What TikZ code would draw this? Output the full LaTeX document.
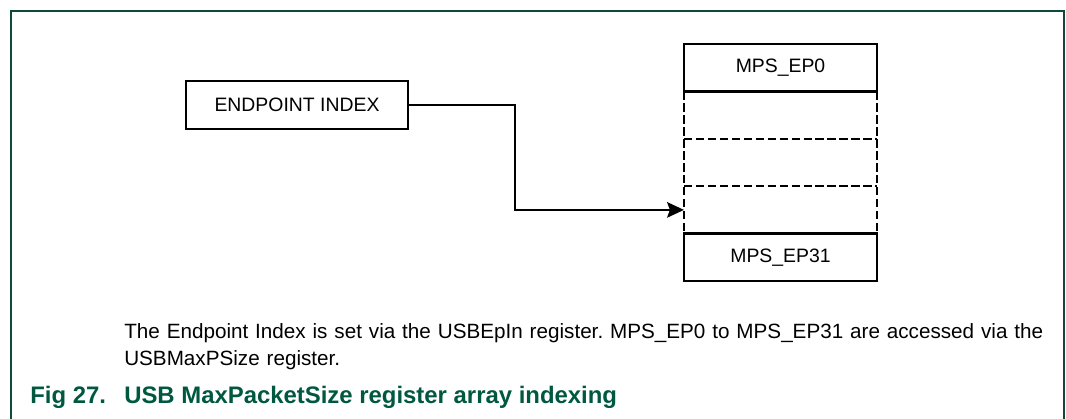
\documentclass[tikz,border=0pt]{standalone}
\usepackage{fontspec}
\setmainfont{Liberation Sans}
\usepackage{tikz}
\usepackage{xcolor}
\usetikzlibrary{
    arrows.meta,
    calc,
    positioning
}
\definecolor{figgreen}{RGB}{0,88,64}
\definecolor{framegreen}{RGB}{14,74,60}
\tikzset{
    regbox/.style={draw, line width=1.6pt, outer sep=0pt, minimum width=4.825cm, minimum height=1.185cm, font=\fontsize{13.8}{15}\selectfont, inner sep=0pt},
    emptyrow/.style={outer sep=0pt, minimum width=4.825cm, minimum height=1.185cm, inner sep=0pt},
    dashline/.style={line width=1.6pt, dash pattern=on 6pt off 2.5pt},
    idxbox/.style={draw, line width=1.6pt, outer sep=0pt, minimum width=5.55cm, minimum height=1.2cm, font=\fontsize{13.8}{15}\selectfont, inner sep=0pt},
    ptr/.style={line width=1.6pt, -{Stealth[length=12pt, width=11pt, inset=2pt]}}
}

\begin{document}
\frenchspacing
\begin{tikzpicture}
                        \useasboundingbox (0, 0) rectangle (26.65, -10.45);
                        \draw[framegreen, line width=1.1pt] (0.275, -10.6) -- (0.275, -0.275) -- (26.6, -0.275) -- (26.6, -10.6);
                        \node[idxbox] (idx) at (7.425, -2.625) {ENDPOINT INDEX};
                        \node[emptyrow, anchor=north] (row1) at (19.5125, -2.285) {};
                        \node[emptyrow, below=0pt of row1] (row2) {};
                        \node[emptyrow, below=0pt of row2] (row3) {};
                        \draw[dashline] (row1.north west) -- (row3.south west) (row1.north east) -- (row3.south east)
                            (row1.south west) -- (row1.south east) (row2.south west) -- (row2.south east);
                        \node[regbox, above=0pt of row1] (ep0) {MPS\_EP0};
                        \node[regbox, below=0pt of row3] (ep31) {MPS\_EP31};
                        \draw[ptr] (idx.east) -- ++(2.675, 0) |- (row3.west);
                        \node[anchor=north west, inner sep=0pt, text width=24cm, align=left, font=\fontsize{14.7}{19.2}\selectfont] (note) at (3.1, -8.07)
                            {The Endpoint Index is set via the USBEpIn register. MPS\_EP0 to MPS\_EP31 are accessed via the\\USBMaxPSize register.};
                        \node[anchor=base west, inner sep=0pt, figgreen, font=\fontsize{17}{19}\selectfont\bfseries] (fignum) at (0.75, -10.075) {Fig 27.};
                        \node[anchor=base west, inner sep=0pt, figgreen, font=\fontsize{17}{19}\selectfont\bfseries] (figtitle) at (3.1, -10.075) {USB MaxPacketSize register array indexing};
                    \end{tikzpicture}
\end{document}
